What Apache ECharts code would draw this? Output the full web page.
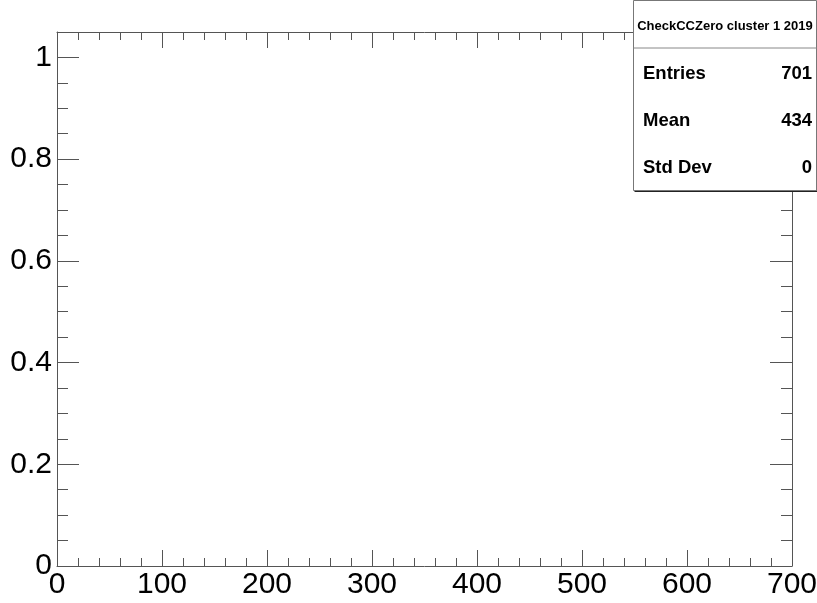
<!DOCTYPE html>
<html>
<head>
<meta charset="utf-8">
<script src="https://cdn.jsdelivr.net/npm/echarts@6/dist/echarts.min.js"></script>
<style>
  html, body { margin: 0; padding: 0; background: #fff; }
  #chart { width: 817px; height: 603px; }
</style>
</head>
<body>
<div id="chart"></div>
<script>
// Histogram "CheckCCZero cluster 1 2019": all bin contents are empty.
const binEdges = [];        // no filled bins
const binCounts = [];

// Axis ranges and tick positions
const xMin = 0, xMax = 700, xStep = 100;
const yMin = 0, yMax = 1.05;
const yMajorTicks = [0, 0.2, 0.4, 0.6, 0.8, 1.0];
const yMinorTicks = [0.05, 0.1, 0.15, 0.25, 0.3, 0.35, 0.45, 0.5, 0.55,
                     0.65, 0.7, 0.75, 0.85, 0.9, 0.95];

// Statistics box contents
const statTitle = 'CheckCCZero cluster 1 2019';
const statNames = ['Entries', 'Mean', 'Std Dev'];
const statValues = ['701', '434', '0'];

const FONT = 'Liberation Sans, Arial, Helvetica, sans-serif';
const AXIS_COLOR = '#555';

const chart = echarts.init(document.getElementById('chart'), null, { renderer: 'canvas' });

function xAxisDef(position, showLabels) {
  return {
    type: 'value', position: position, min: xMin, max: xMax, interval: xStep,
    axisLine: { show: true, onZero: false, lineStyle: { color: AXIS_COLOR, width: 1 } },
    axisTick: { show: true, inside: true, length: 16, lineStyle: { color: AXIS_COLOR } },
    minorTick: { show: true, splitNumber: 5, length: 8, lineStyle: { color: AXIS_COLOR } },
    axisLabel: {
      show: showLabels, margin: 4, fontSize: 30, color: '#000', fontFamily: FONT,
      hideOverlap: false, showMinLabel: true, showMaxLabel: true
    },
    splitLine: { show: false }
  };
}

function yAxisDef(position, values, len, showLine, showLabels) {
  return {
    type: 'value', position: position, min: yMin, max: yMax,
    axisLine: { show: showLine, onZero: false, lineStyle: { color: AXIS_COLOR, width: 1 } },
    axisTick: { show: true, inside: true, length: len, customValues: values, lineStyle: { color: AXIS_COLOR } },
    axisLabel: {
      show: showLabels, customValues: values, margin: 5, fontSize: 30, color: '#000', fontFamily: FONT,
      formatter: v => String(Math.round(v * 10) / 10)
    },
    splitLine: { show: false }
  };
}

// Stats box geometry
const box = { x: 633.5, y: 0.5, w: 183, h: 190 };
const rowY = [73.5, 120.5, 168];

const statGraphics = [
  { type: 'rect', shape: { x: box.x + 1, y: box.y + 1.5, width: box.w, height: box.h },
    style: { fill: '#222' }, z: 10 },
  { type: 'rect', shape: { x: box.x, y: box.y, width: box.w, height: box.h },
    style: { fill: '#fff', stroke: '#777', lineWidth: 1 }, z: 11 },
  { type: 'line', shape: { x1: box.x, y1: 48, x2: box.x + box.w, y2: 48 },
    style: { stroke: '#888', lineWidth: 1 }, z: 12 },
  { type: 'text', x: box.x + box.w / 2, y: 26, z: 12,
    style: { text: statTitle, fill: '#000', font: 'bold 13px ' + FONT, align: 'center', verticalAlign: 'middle' } }
];
statNames.forEach((name, i) => {
  statGraphics.push({ type: 'text', x: 643, y: rowY[i], z: 12,
    style: { text: name, fill: '#000', font: 'bold 18.5px ' + FONT, align: 'left', verticalAlign: 'middle' } });
  statGraphics.push({ type: 'text', x: 812, y: rowY[i], z: 12,
    style: { text: statValues[i], fill: '#000', font: 'bold 18.5px ' + FONT, align: 'right', verticalAlign: 'middle' } });
});

chart.setOption({
  animation: false,
  backgroundColor: '#fff',
  grid: { left: 57, right: 25, top: 32, bottom: 37, containLabel: false, outerBoundsMode: 'none' },
  xAxis: [xAxisDef('bottom', true), xAxisDef('top', false)],
  yAxis: [
    yAxisDef('left', yMajorTicks, 22, true, true),
    yAxisDef('left', yMinorTicks, 11, false, false),
    yAxisDef('right', yMajorTicks, 22, true, false),
    yAxisDef('right', yMinorTicks, 11, false, false)
  ],
  series: [
    {
      type: 'bar', xAxisIndex: 0, yAxisIndex: 0,
      data: binEdges.map((e, i) => [e, binCounts[i]]),
      itemStyle: { color: '#000' }
    },
    { type: 'line', xAxisIndex: 1, yAxisIndex: 2, data: [] }
  ],
  graphic: statGraphics
});
</script>
</body>
</html>
